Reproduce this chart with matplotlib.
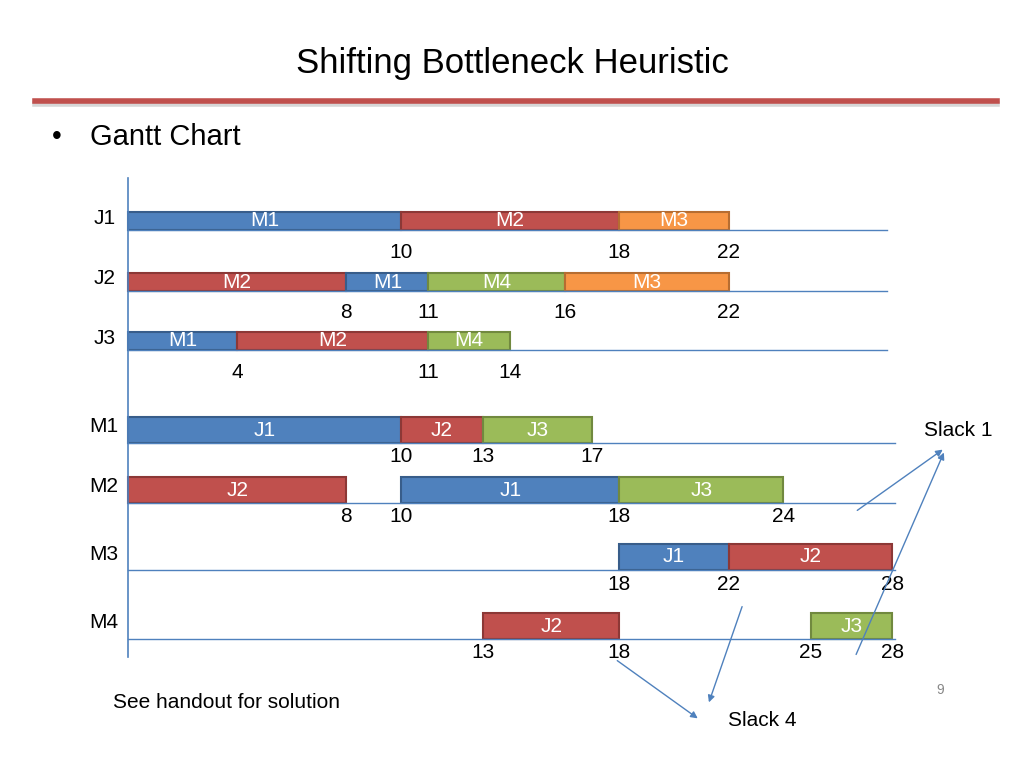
import matplotlib.pyplot as plt
from matplotlib.patches import Rectangle

plt.rcParams["font.family"] = "Liberation Sans"

BLUE, RED, GREEN, ORANGE = "#4F81BD", "#C0504D", "#9BBB59", "#F79646"
EDGE = {BLUE: "#385D8A", RED: "#8C3836", GREEN: "#71893F", ORANGE: "#B66D31"}

# job rows: (label, ops as (machine, start, end), colour per op)
job_rows = ["J1", "J2", "J3"]
job_ops = [
    [("M1", 0, 10), ("M2", 10, 18), ("M3", 18, 22)],
    [("M2", 0, 8), ("M1", 8, 11), ("M4", 11, 16), ("M3", 16, 22)],
    [("M1", 0, 4), ("M2", 4, 11), ("M4", 11, 14)],
]
job_ticks = [[10, 18, 22], [8, 11, 16, 22], [4, 11, 14]]

# machine rows
mach_rows = ["M1", "M2", "M3", "M4"]
mach_ops = [
    [("J1", 0, 10), ("J2", 10, 13), ("J3", 13, 17)],
    [("J2", 0, 8), ("J1", 10, 18), ("J3", 18, 24)],
    [("J1", 18, 22), ("J2", 22, 28)],
    [("J2", 13, 18), ("J3", 25, 28)],
]
mach_ticks = [[10, 13, 17], [8, 10, 18, 24], [18, 22, 28], [13, 18, 25, 28]]

mach_color = {"M1": BLUE, "M2": RED, "M3": ORANGE, "M4": GREEN}
job_color = {"J1": BLUE, "J2": RED, "J3": GREEN}

fig = plt.figure(figsize=(10.24, 7.68), dpi=100)
ax = fig.add_axes([0, 0, 1, 1])
X0, S = 128, 27.3
ax.set_xlim(-X0 / S, (1024 - X0) / S)
ax.set_ylim(768, 0)
ax.axis("off")

def px(x):
    return (x - X0) / S

fig.text(0.5, 1 - 63 / 768, "Shifting Bottleneck Heuristic", ha="center", va="center", fontsize=25)
ax.plot([px(35), px(997)], [104, 104], color="#BBBBBB", lw=4, alpha=0.6)
ax.plot([px(35), px(997)], [101, 101], color="#C0504D", lw=4)
ax.text(px(52), 137, "•", fontsize=20, va="center")
ax.text(px(90), 137, "Gantt Chart", fontsize=21, va="center")

ax.plot([0, 0], [178, 657], color="#4F81BD", lw=1.2)

def draw_rows(names, ops, ticks, cols, ys, h, line_end, tick_dy, name_x):
    for name, row, tk, yc in zip(names, ops, ticks, ys):
        ax.plot([0, px(line_end)], [yc + h / 2, yc + h / 2], color="#4F81BD", lw=1)
        ax.text(px(name_x), yc - 3, name, fontsize=15, va="center", ha="center")
        for lab, s, e in row:
            c = cols(lab)
            ax.add_patch(Rectangle((s, yc - h / 2), e - s, h, facecolor=c, edgecolor=EDGE[c], lw=1.5))
            ax.text((s + e) / 2, yc, lab, color="white", fontsize=15, ha="center", va="center")
        for t in tk:
            ax.text(t, yc + tick_dy, str(t), fontsize=15, ha="center", va="center")

draw_rows(job_rows, job_ops, job_ticks, lambda m: mach_color[m], [221, 282, 341], 18, 887, 31, 105)
draw_rows(mach_rows, mach_ops, mach_ticks, lambda j: job_color[j], [430, 490, 557, 626], 26, 895, 27, 104)

ax.text(px(113), 703, "See handout for solution", fontsize=15, va="center")
ax.text(px(940), 690, "9", fontsize=10, color="#888888", ha="center", va="center")
ax.text(px(958), 431, "Slack 1", fontsize=15, ha="center", va="center")
ax.text(px(762), 720, "Slack 4", fontsize=15, ha="center", va="center")
arrows = [((855, 512), (945, 448)), ((855, 657), (945, 450)),
          ((743, 604), (708, 705)), ((615, 659), (700, 720))]
for (x1, y1), (x2, y2) in arrows:
    ax.annotate("", xy=(px(x2), y2), xytext=(px(x1), y1),
                arrowprops=dict(arrowstyle="-|>", color="#4F81BD", lw=1))

fig.savefig("out.png", dpi=100)
